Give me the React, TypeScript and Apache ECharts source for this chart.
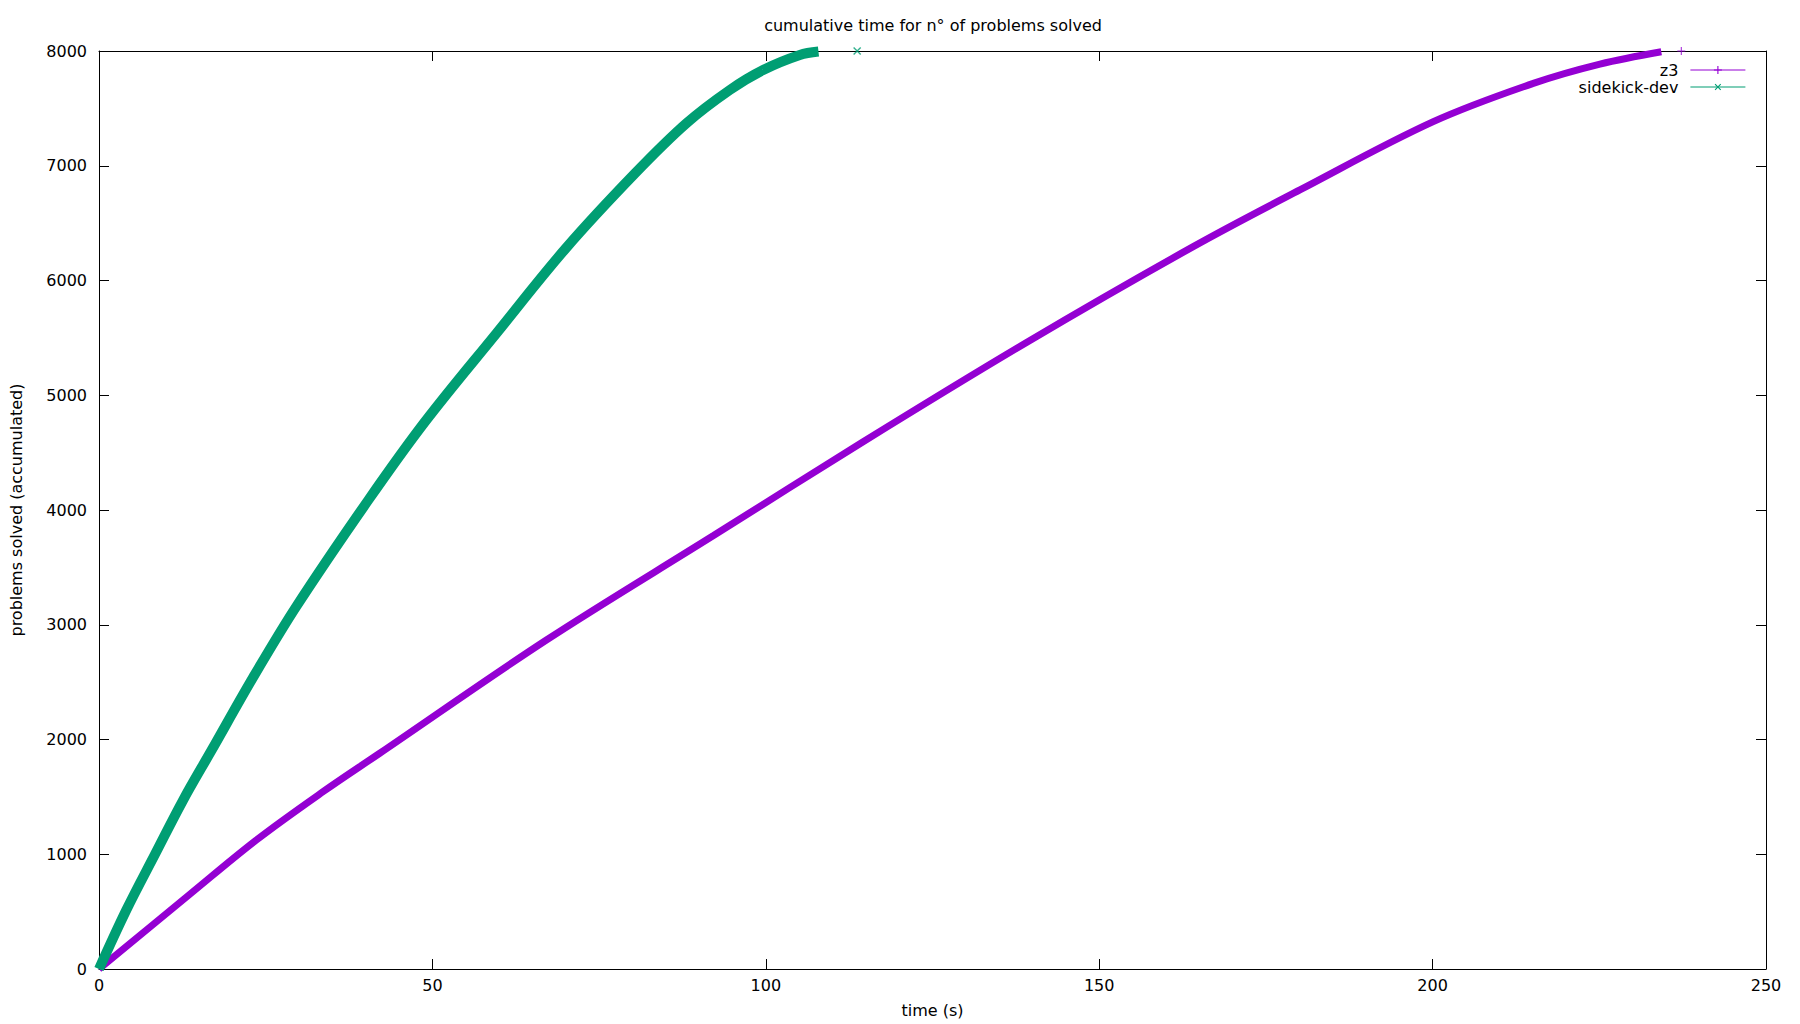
import { useEffect, useRef } from 'react';
import * as echarts from 'echarts';

// values (time in s, problems solved)
const z3Time = [0, 13.6, 23.6, 33.6, 42.1, 67.1, 92.1, 114.6, 139.1, 164.1, 180.1, 200.1, 215.1, 225.1, 234.3];
const z3Solved = [0, 650, 1124, 1545, 1880, 2867, 3775, 4595, 5460, 6295, 6789, 7384, 7718, 7886, 7994];
const z3Last = [237.3, 8000];

const sidekickTime = [0, 4.1, 8.4, 12.6, 16.9, 23.1, 29.6, 40.4, 48.9, 59.6, 70.0, 80.4, 88.1, 94.6, 99.6, 105.1, 107.9];
const sidekickSolved = [0, 514, 1000, 1470, 1908, 2540, 3160, 4087, 4770, 5540, 6280, 6934, 7370, 7660, 7834, 7965, 7995];
const sidekickLast = [113.7, 8000];

const xRange = { min: 0, max: 250, interval: 50 };
const yRange = { min: 0, max: 8000, interval: 1000 };

const PURPLE = '#9400d3';
const GREEN = '#009e73';
const FONT = 'DejaVu Sans';
const PLUS = 'path://M4.3,0H5.7V4.3H10V5.7H5.7V10H4.3V5.7H0V4.3H4.3Z';

function toPairs(xs: number[], ys: number[]) {
  return xs.map((x, i) => [x, ys[i]]);
}

export default function App() {
  const chartRef = useRef<HTMLDivElement>(null);

  useEffect(() => {
    document.body.style.margin = '0';
    if (!chartRef.current) {
      return;
    }
    const chart = echarts.init(chartRef.current, null, { renderer: 'svg' });

    const axisLine = { show: true, onZero: false, lineStyle: { color: '#000', width: 1 } };
    const tick = { show: true, inside: true, length: 10, lineStyle: { color: '#000', width: 1 } };
    const label = { color: '#000', fontSize: 16, fontFamily: FONT };
    const plain = (v: number) => String(v);

    const option: echarts.EChartsOption = {
      animation: false,
      backgroundColor: '#fff',
      title: {
        text: 'cumulative time for n° of problems solved',
        left: 928,
        top: 12,
        textAlign: 'center',
        textStyle: { color: '#000', fontSize: 16, fontWeight: 'normal', fontFamily: FONT },
      },
      grid: { left: 99, right: 34, top: 51, bottom: 55, containLabel: false },
      legend: {
        data: ['z3', 'sidekick-dev'],
        orient: 'vertical',
        align: 'right',
        right: 49,
        top: 57,
        itemWidth: 55,
        itemHeight: 10,
        itemGap: 1,
        lineStyle: { width: 1.2 },
        textStyle: { color: '#000', fontSize: 16, fontFamily: FONT, lineHeight: 16, padding: [0, 7, 0, 0] },
      },
      xAxis: [
        {
          type: 'value',
          position: 'bottom',
          ...xRange,
          name: 'time (s)',
          nameLocation: 'middle',
          nameGap: 33,
          nameTextStyle: label,
          axisLine,
          axisTick: tick,
          axisLabel: { ...label, margin: 8, formatter: plain },
          splitLine: { show: false },
        },
        {
          type: 'value',
          position: 'top',
          ...xRange,
          axisLine,
          axisTick: tick,
          axisLabel: { show: false },
          splitLine: { show: false },
        },
      ],
      yAxis: [
        {
          type: 'value',
          position: 'left',
          ...yRange,
          name: 'problems solved (accumulated)',
          nameLocation: 'middle',
          nameGap: 75,
          nameTextStyle: label,
          axisLine,
          axisTick: tick,
          axisLabel: { ...label, margin: 12, formatter: plain },
          splitLine: { show: false },
        },
        {
          type: 'value',
          position: 'right',
          ...yRange,
          axisLine,
          axisTick: tick,
          axisLabel: { show: false },
          splitLine: { show: false },
        },
      ],
      series: [
        {
          name: 'z3',
          type: 'line',
          data: toPairs(z3Time, z3Solved),
          symbol: PLUS,
          showSymbol: false,
          smooth: 0.35,
          clip: false,
          itemStyle: { color: PURPLE },
          lineStyle: { color: PURPLE, width: 7 },
          silent: true,
        },
        {
          name: 'z3-last',
          type: 'scatter',
          data: [z3Last],
          symbol: PLUS,
          symbolSize: 8,
          clip: false,
          itemStyle: { color: PURPLE },
          silent: true,
        },
        {
          name: 'sidekick-dev',
          type: 'line',
          data: toPairs(sidekickTime, sidekickSolved),
          symbol: PLUS,
          symbolRotate: 45,
          showSymbol: false,
          smooth: 0.35,
          clip: false,
          itemStyle: { color: GREEN },
          lineStyle: { color: GREEN, width: 10 },
          silent: true,
        },
        {
          name: 'sidekick-last',
          type: 'scatter',
          data: [sidekickLast],
          symbol: PLUS,
          symbolRotate: 45,
          symbolSize: 10,
          clip: false,
          itemStyle: { color: GREEN },
          silent: true,
        },
      ],
    };

    chart.setOption(option);
    return () => {
      chart.dispose();
    };
  }, []);

  return <div ref={chartRef} style={{ width: '1800px', height: '1024px' }} />;
}
